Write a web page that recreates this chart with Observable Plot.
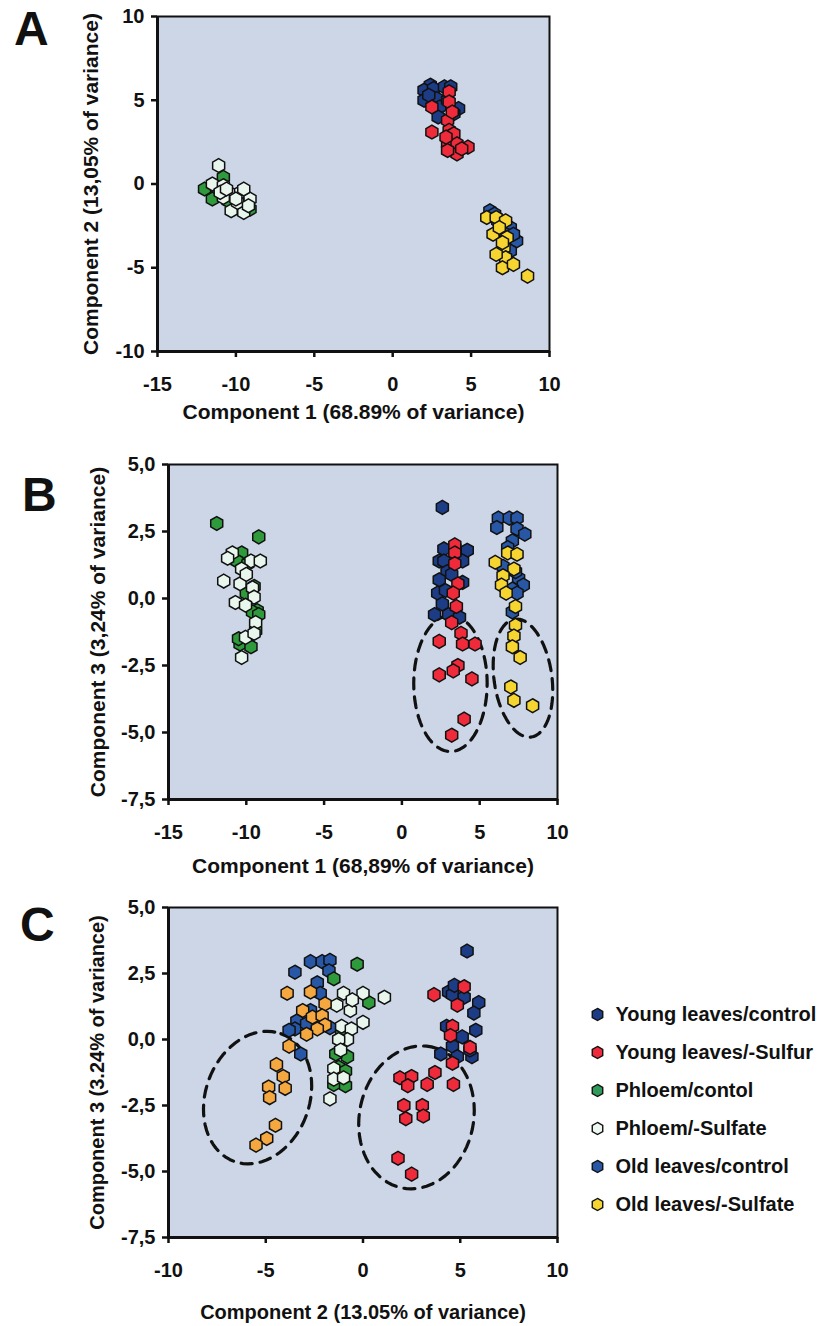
<!DOCTYPE html>
<html>
<head>
<meta charset="utf-8">
<script src="https://cdn.jsdelivr.net/npm/d3@7"></script>
<script src="https://cdn.jsdelivr.net/npm/@observablehq/plot@0.6"></script>
<style>
  html, body { margin: 0; padding: 0; background: #ffffff; }
  #root { position: relative; width: 821px; height: 1326px; overflow: hidden; background: #ffffff;
          font-family: "Liberation Sans", Arial, Helvetica, sans-serif; }
  .panel { position: absolute; left: 0; }
  .letter { position: absolute; font: bold 48px "Liberation Sans", Arial, sans-serif; line-height: 1; color: #111; }
</style>
</head>
<body>
<div id="root"></div>
<script>
// ---------- categories & colours ----------
const groups = ["Young leaves/control", "Young leaves/-Sulfur", "Phloem/contol",
                "Phloem/-Sulfate", "Old leaves/control", "Old leaves/-Sulfate"];
const colorsAB = ["#1d3c86", "#ee2a3b", "#2f9a3b", "#e8f6ee", "#2857a6", "#f6d531"];
const colorsC  = ["#1d3c86", "#ee2a3b", "#2f9a3b", "#e8f6ee", "#2857a6", "#f5a83f"];
const legendColors = ["#1d3c86", "#ee2a3b", "#2f9a5a", "#eef8f2", "#2857a6", "#f6d531"];
const drawOrder = [0, 4, 2, 3, 1, 5];

// ---------- tick labels ----------
const ticksA_x = [-15, -10, -5, 0, 5, 10];
const ticksA_y = [-10, -5, 0, 5, 10];
const ticksB_x = [-15, -10, -5, 0, 5, 10];
const ticksB_y = [-7.5, -5, -2.5, 0, 2.5, 5];
const ticksC_x = [-10, -5, 0, 5, 10];
const ticksC_y = [-7.5, -5, -2.5, 0, 2.5, 5];

// ---------- Panel A: Component 1 vs Component 2 ----------
const A_youngControl = [[2.4,5.9],[2.0,5.6],[2.6,5.7],[3.3,5.8],[3.7,5.8],[2.0,5.0],[2.8,5.1],[3.0,4.6],[4.2,4.5],[2.9,4.0],[3.9,4.2],[2.3,5.3],[3.5,5.0]];
const A_youngSulfur  = [[2.5,4.6],[3.6,5.5],[3.6,4.9],[3.5,3.8],[2.5,3.1],[3.6,3.2],[3.9,3.0],[3.5,2.4],[4.1,2.4],[4.8,2.2],[4.1,1.8],[3.5,2.0],[3.8,4.3],[3.4,2.8],[4.4,2.1]];
const A_phloemControl = [[-12.0,-0.3],[-11.5,-0.9],[-10.8,0.4],[-9.1,-1.5],[-10.5,-1.0],[-11.2,-0.2],[-9.8,-0.6]];
const A_phloemSulfate = [[-11.1,1.1],[-11.5,0.0],[-10.8,-0.1],[-10.3,-0.6],[-9.7,-0.5],[-9.1,-0.9],[-10.3,-1.6],[-9.5,-1.7],[-10.8,-0.8],[-9.9,-1.1],[-9.2,-1.3],[-10.0,-0.9],[-11.0,-0.5],[-9.5,-0.3],[-10.6,-0.3]];
const A_oldControl = [[6.2,-1.6],[6.7,-2.2],[7.5,-2.6],[7.9,-3.4],[7.5,-4.0],[7.2,-3.0],[6.5,-1.8],[7.7,-3.0]];
const A_oldSulfate = [[6.0,-2.0],[6.6,-2.0],[7.2,-2.2],[6.4,-3.0],[7.3,-3.2],[7.1,-3.8],[7.2,-4.4],[7.0,-5.0],[7.7,-4.8],[8.6,-5.5],[6.8,-2.6],[7.0,-3.5],[6.6,-4.2]];

// ---------- Panel B: Component 1 vs Component 3 ----------
const B_youngControl = [[2.6,3.4],[2.7,1.85],[4.2,1.8],[2.4,1.4],[3.9,1.4],[2.7,1.4],[2.9,1.0],[2.4,0.7],[3.9,0.6],[2.3,0.2],[2.8,0.3],[2.1,-0.6],[3.0,-0.6],[3.7,-0.7],[3.2,0.9],[3.4,1.9],[2.6,-0.2]];
const B_youngSulfur  = [[3.4,2.0],[3.4,1.7],[3.4,1.3],[3.6,0.55],[3.3,0.2],[3.5,-0.3],[3.2,-0.9],[3.8,-1.3],[3.9,-1.7],[2.4,-1.6],[4.7,-1.7],[3.6,-2.5],[3.3,-2.7],[2.4,-2.85],[4.5,-3.0],[4.0,-4.5],[3.2,-5.1]];
const B_phloemControl = [[-11.9,2.8],[-9.2,2.3],[-10.3,1.7],[-10.6,1.4],[-9.9,1.3],[-9.5,0.45],[-9.3,-0.45],[-9.6,-0.5],[-9.2,-0.6],[-10.4,-1.7],[-9.7,-1.8],[-10.0,0.2],[-9.4,-1.2],[-10.5,-1.5]];
const B_phloemSulfate = [[-10.9,1.7],[-9.7,1.4],[-9.1,1.4],[-10.3,1.1],[-11.45,0.65],[-10.4,0.55],[-9.6,0.4],[-10.7,-0.15],[-9.5,0.05],[-10.05,-0.25],[-9.4,-0.9],[-10.05,-1.45],[-9.5,-1.3],[-10.3,-2.2],[-11.2,1.5],[-10.0,0.9]];
const B_oldControl = [[6.2,3.0],[6.9,3.0],[7.4,3.0],[6.1,2.65],[7.4,2.6],[7.9,2.4],[7.1,2.15],[6.5,1.2],[7.5,0.75],[7.8,0.5],[7.1,0.35],[7.4,0.2],[7.1,-0.5],[7.3,1.0],[6.8,1.9]];
const B_oldSulfate = [[6.8,1.7],[7.4,1.65],[6.0,1.35],[7.2,1.1],[6.5,0.85],[6.4,0.5],[6.7,0.2],[7.3,-0.3],[7.3,-1.0],[7.2,-1.4],[7.1,-1.8],[7.6,-2.2],[7.0,-3.3],[7.2,-3.8],[8.4,-4.0]];

// ---------- Panel C: Component 2 vs Component 3 ----------
const C_youngControl = [[5.35,3.35],[4.4,1.8],[4.6,1.7],[4.7,2.05],[5.95,1.4],[5.7,1.0],[5.8,0.35],[4.3,0.5],[5.1,0.1],[4.0,-0.55],[4.6,-0.25],[4.85,-0.65],[5.6,-0.65],[5.2,1.6],[5.5,-0.4]];
const C_youngSulfur  = [[3.65,1.7],[5.2,2.0],[4.85,1.3],[4.6,0.5],[4.5,0.15],[5.5,-0.3],[4.6,-0.9],[3.7,-1.25],[3.3,-1.7],[4.65,-1.7],[1.9,-1.45],[2.5,-1.4],[2.3,-1.75],[2.1,-2.5],[3.05,-2.5],[2.2,-3.0],[3.1,-2.9],[1.8,-4.5],[2.5,-5.1]];
const C_phloemControl = [[-0.3,2.85],[-1.5,2.3],[0.3,1.4],[-0.8,-0.65],[-1.4,-0.55],[-1.5,-1.7],[-0.9,-1.75],[-1.25,-1.05],[-0.9,-1.2],[-1.1,0.3]];
const C_phloemSulfate = [[-1.0,1.75],[0.0,1.75],[1.1,1.6],[-1.35,1.3],[-0.65,1.1],[-0.55,1.5],[0.0,0.65],[-1.1,0.5],[-0.6,0.4],[-0.8,0.0],[-1.25,0.0],[-1.5,-1.1],[-1.5,-1.5],[-1.0,-1.45],[-1.7,-2.25],[-1.15,-0.4]];
const C_oldControl = [[-2.7,2.95],[-2.1,2.95],[-1.7,3.0],[-3.5,2.55],[-1.75,2.6],[-2.35,2.15],[-2.2,1.75],[-2.7,1.1],[-3.4,0.7],[-3.5,0.4],[-3.8,0.35],[-1.7,0.45],[-3.2,-0.55],[-2.9,0.6]];
const C_oldSulfate = [[-3.9,1.75],[-2.7,1.8],[-1.95,1.35],[-3.1,1.1],[-2.6,0.85],[-2.1,0.9],[-1.95,0.55],[-2.35,0.4],[-2.9,0.2],[-3.8,-0.25],[-4.45,-0.95],[-4.1,-1.4],[-4.0,-1.85],[-4.85,-1.8],[-4.8,-2.2],[-4.5,-3.25],[-4.95,-3.75],[-5.5,-4.0]];

// ---------- dashed ellipses (centre + two conjugate semi-axes, data units) ----------
const ellipsesB = [
  {id: "young", cx: 3.12, cy: -3.17, ux: 0.0, uy: 2.54, vx: 2.36, vy: 0.0},
  {id: "old",   cx: 7.78, cy: -2.97, ux: -0.53, uy: 2.20, vx: 1.84, vy: 0.15}
];
const ellipsesC = [
  {id: "old",   cx: -5.42, cy: -2.20, ux: 1.20, uy: 2.42, vx: 2.51, vy: -0.67},
  {id: "young", cx: 2.75,  cy: -2.95, ux: 0.77, uy: 2.67, vx: 2.87, vy: -0.45}
];

// ---------- helpers ----------
const BG = "#ccd6e6";
const FONT = "'Liberation Sans', Arial, Helvetica, sans-serif";
const fmtInt = d => String(d);
const fmtComma = d => d.toFixed(1).replace(".", ",");

const hexSymbol = {
  draw(ctx, size) {
    const R = Math.sqrt(size / Math.PI) * 1.1;
    for (let i = 0; i < 6; i++) {
      const a = Math.PI / 3 * i - Math.PI / 2;
      const px = R * Math.cos(a), py = R * Math.sin(a);
      if (i === 0) ctx.moveTo(px, py); else ctx.lineTo(px, py);
    }
    ctx.closePath();
  }
};

function toRows(sets, colors) {
  return drawOrder.flatMap(i => sets[i].map(([x, y]) => ({x, y, g: groups[i], c: colors[i]})));
}
function ellipsePoints(list) {
  const steps = d3.range(0, 73).map(k => k / 72 * 2 * Math.PI);
  return list.flatMap(e => steps.map(t => ({
    id: e.id,
    x: e.cx + e.ux * Math.cos(t) + e.vx * Math.sin(t),
    y: e.cy + e.uy * Math.cos(t) + e.vy * Math.sin(t)
  })));
}

function panel(o) {
  const marks = [
    Plot.frame({fill: BG, stroke: "#111", strokeWidth: 2}),
    Plot.axisX({ticks: o.xTicks, tickFormat: o.xFormat, tickSize: 6, tickPadding: 19,
                fontSize: 20, strokeWidth: 2.5, label: null}),
    Plot.axisY({ticks: o.yTicks, tickFormat: o.yFormat, tickSize: 6, tickPadding: 7,
                fontSize: 20, strokeWidth: 2.5, label: null})
  ];
  if (o.ellipses) {
    marks.push(Plot.line(ellipsePoints(o.ellipses), {x: "x", y: "y", z: "id", stroke: "#111",
      strokeWidth: 3.2, strokeDasharray: "11,8"}));
  }
  marks.push(
    Plot.dot(o.rows, {x: "x", y: "y", fill: "c", stroke: "#111", strokeWidth: 1.5, r: 6.3, symbol: hexSymbol}),
    Plot.ruleX([o.xDomain[0]], {stroke: "#111", strokeWidth: 3}),
    Plot.ruleY([o.yDomain[0]], {stroke: "#111", strokeWidth: 3}),
    Plot.text([o.xTitle], {text: d => d, frameAnchor: "bottom", dy: o.xTitleDy, fontSize: o.titleSize,
      textAnchor: "middle", lineAnchor: "middle"}),
    Plot.text([o.yTitle], {text: d => d, frameAnchor: "left", dx: -o.yTitleDx, rotate: -90, fontSize: o.titleSize,
      textAnchor: "middle", lineAnchor: "middle"})
  );
  const svg = Plot.plot({
    width: 821, height: o.height,
    marginLeft: o.frame[0], marginRight: 821 - o.frame[1],
    marginTop: o.frame[2], marginBottom: o.height - o.frame[3],
    x: {domain: o.xDomain},
    y: {domain: o.yDomain},
    color: {type: "identity"},
    style: {fontFamily: FONT, fontWeight: "bold", fontSize: "20px", color: "#111", background: "transparent", overflow: "visible"},
    marks
  });
  svg.classList.add("panel");
  svg.style.top = o.top + "px";
  return svg;
}

const root = document.getElementById("root");

root.appendChild(panel({
  top: 0, height: 450, frame: [157, 549, 16, 351],
  xDomain: [-15, 10], yDomain: [-10, 10], xTicks: ticksA_x, yTicks: ticksA_y,
  xFormat: fmtInt, yFormat: fmtInt,
  rows: toRows([A_youngControl, A_youngSulfur, A_phloemControl, A_phloemSulfate, A_oldControl, A_oldSulfate], colorsAB),
  xTitle: "Component 1 (68.89% of variance)", xTitleDy: 61,
  yTitle: "Component 2 (13,05% of variance)", yTitleDx: 66, titleSize: 21
}));

root.appendChild(panel({
  top: 450, height: 430, frame: [168, 557, 14, 349],
  xDomain: [-15, 10], yDomain: [-7.5, 5], xTicks: ticksB_x, yTicks: ticksB_y,
  xFormat: fmtInt, yFormat: fmtComma,
  rows: toRows([B_youngControl, B_youngSulfur, B_phloemControl, B_phloemSulfate, B_oldControl, B_oldSulfate], colorsAB),
  ellipses: ellipsesB,
  xTitle: "Component 1 (68,89% of variance)", xTitleDy: 67,
  yTitle: "Component 3 (3,24% of variance)", yTitleDx: 70, titleSize: 21
}));

root.appendChild(panel({
  top: 880, height: 446, frame: [168, 557, 27, 357],
  xDomain: [-10, 10], yDomain: [-7.5, 5], xTicks: ticksC_x, yTicks: ticksC_y,
  xFormat: fmtInt, yFormat: fmtComma,
  rows: toRows([C_youngControl, C_youngSulfur, C_phloemControl, C_phloemSulfate, C_oldControl, C_oldSulfate], colorsC),
  ellipses: ellipsesC,
  xTitle: "Component 2 (13.05% of variance)", xTitleDy: 75,
  yTitle: "Component 3 (3.24% of variance)", yTitleDx: 71, titleSize: 20
}));

// legend
const legend = Plot.plot({
  width: 241, height: 290, marginLeft: 17, marginRight: 0, marginTop: 0, marginBottom: 0,
  x: {domain: [0, 1], range: [17, 241], axis: null},
  y: {type: "point", domain: groups, range: [32, 265], axis: null},
  color: {type: "identity"},
  style: {fontFamily: FONT, fontWeight: "bold", color: "#111", background: "transparent", overflow: "visible"},
  marks: [
    Plot.dot(groups, {x: () => 0, y: d => d, fill: (d, i) => legendColors[i], stroke: "#111", strokeWidth: 1.4, r: 5.5, symbol: hexSymbol}),
    Plot.text(groups, {x: () => 0, y: d => d, text: d => d, dx: 18, textAnchor: "start", fontSize: 20})
  ]
});
legend.classList.add("panel");
legend.style.left = "580px";
legend.style.top = "960px";
root.appendChild(legend);

// panel letters
[["A", 14, 5], ["B", 22, 471], ["C", 20, 901]].forEach(([t, l, tp]) => {
  const d = document.createElement("div");
  d.className = "letter";
  d.textContent = t;
  d.style.left = l + "px";
  d.style.top = tp + "px";
  root.appendChild(d);
});
</script>
</body>
</html>
